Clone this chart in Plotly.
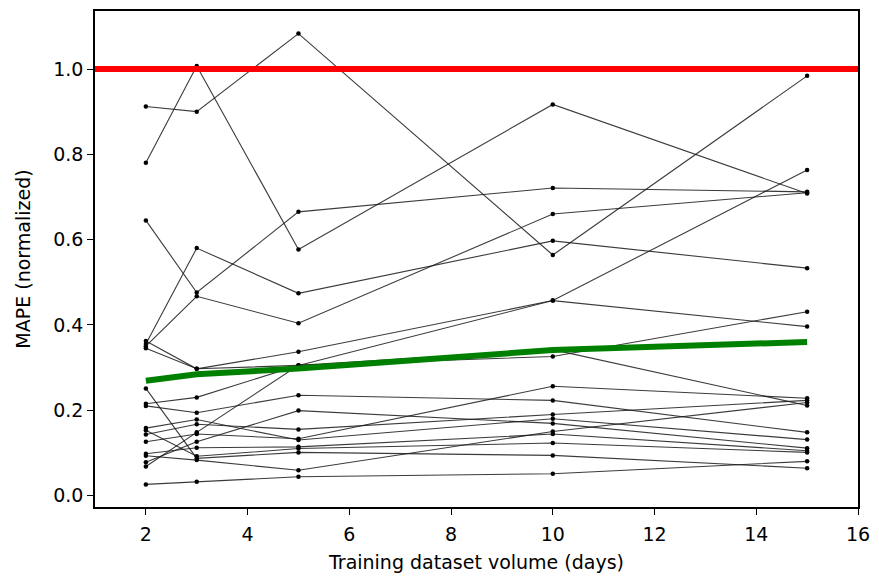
import plotly.graph_objects as go

# Training window sizes (days)
days = [2, 3, 5, 10, 15]

# Normalized MAPE of each individual model per training volume
series = [
    [0.912, 0.900, 1.083, 0.564, 0.984],
    [0.780, 1.007, 0.577, 0.917, 0.708],
    [0.645, 0.476, 0.665, 0.721, 0.712],
    [0.355, 0.580, 0.474, 0.597, 0.533],
    [0.350, 0.467, 0.404, 0.660, 0.710],
    [0.362, 0.297, 0.337, 0.457, 0.763],
    [0.345, 0.297, 0.305, 0.326, 0.431],
    [0.251, 0.087, 0.101, 0.094, 0.064],
    [0.215, 0.230, 0.305, 0.457, 0.396],
    [0.210, 0.194, 0.235, 0.223, 0.148],
    [0.158, 0.178, 0.130, 0.180, 0.131],
    [0.153, 0.092, 0.110, 0.123, 0.101],
    [0.143, 0.167, 0.155, 0.190, 0.223],
    [0.126, 0.144, 0.133, 0.256, 0.228],
    [0.098, 0.112, 0.114, 0.144, 0.105],
    [0.093, 0.083, 0.059, 0.150, 0.218],
    [0.078, 0.126, 0.199, 0.169, 0.111],
    [0.068, 0.148, 0.305, 0.342, 0.211],
    [0.026, 0.032, 0.044, 0.051, 0.080],
]

# Aggregate curve and reference level
trend = [0.269, 0.284, 0.298, 0.341, 0.360]
reference_level = 1.0

x_range = [1, 16]
y_range = [-0.027, 1.136]
x_ticks = [2, 4, 6, 8, 10, 12, 14, 16]
y_ticks = [0.0, 0.2, 0.4, 0.6, 0.8, 1.0]

fig = go.Figure()

for vals in series:
    fig.add_trace(go.Scatter(
        x=days, y=vals, mode="lines+markers",
        line=dict(color="rgba(25,25,25,0.85)", width=1.1),
        marker=dict(color="black", size=4.5),
        showlegend=False, hoverinfo="skip",
    ))

fig.add_trace(go.Scatter(
    x=days, y=trend, mode="lines",
    line=dict(color="#008000", width=6),
    showlegend=False,
))

fig.add_trace(go.Scatter(
    x=x_range, y=[reference_level, reference_level], mode="lines",
    line=dict(color="#ff0000", width=6),
    showlegend=False,
))

axis_font = dict(family="DejaVu Sans", size=19, color="black")

fig.update_layout(
    width=879, height=579,
    margin=dict(l=95, r=18, t=9, b=72),
    paper_bgcolor="white", plot_bgcolor="white",
    font=axis_font,
    xaxis=dict(
        range=x_range, tickvals=x_ticks, ticktext=[str(t) for t in x_ticks],
        showgrid=False, zeroline=False,
        showline=True, linecolor="black", linewidth=1.5, mirror=True,
        ticks="outside", ticklen=6, tickwidth=1.2, tickcolor="black",
        ticklabelstandoff=3,
        tickfont=axis_font,
        title=dict(text="Training dataset volume (days)", font=axis_font, standoff=12),
    ),
    yaxis=dict(
        range=y_range, tickvals=y_ticks, ticktext=[f"{t:.1f}" for t in y_ticks],
        showgrid=False, zeroline=False,
        showline=True, linecolor="black", linewidth=1.5, mirror=True,
        ticks="outside", ticklen=6, tickwidth=1.2, tickcolor="black",
        tickfont=axis_font,
        title=dict(text="MAPE (normalized)", font=axis_font, standoff=18),
    ),
)

fig.write_html("out.html")
